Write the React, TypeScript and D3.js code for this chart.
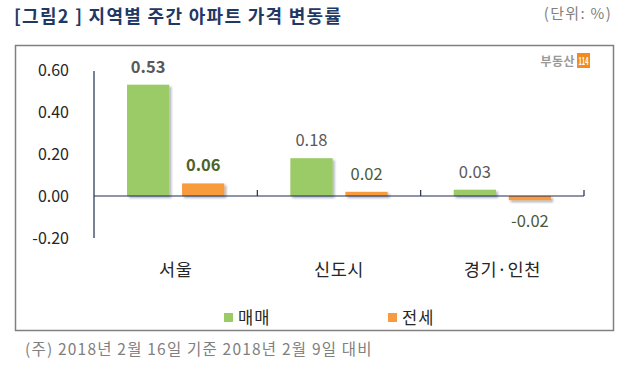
import React from "react";
import * as d3 from "d3";

const categories = ["서울", "신도시", "경기·인천"];
const seriesNames = ["매매", "전세"];
const saleValues = [0.53, 0.18, 0.03];
const leaseValues = [0.06, 0.02, -0.02];
const yTicks = [-0.2, 0, 0.2, 0.4, 0.6];

const W = 632;
const H = 365;
const FONT = "'Noto Sans CJK KR', 'Noto Sans', sans-serif";
const colors = ["#9BCB66", "#F79B3E"];

export default function App() {
  const x = d3.scaleBand<string>().domain(categories).range([94, 584]).padding(0);
  const inner = d3
    .scaleBand<string>()
    .domain(seriesNames)
    .range([0, x.bandwidth()])
    .paddingInner(0.232)
    .paddingOuter(0.6);
  const y = d3.scaleLinear().domain([-0.2, 0.6]).range([238, 70]);
  const values = [saleValues, leaseValues];

  const labelStyle = (si: number, ci: number) => {
    if (ci === 0) return { weight: 700, color: si === 0 ? "#595959" : "#4F6228" };
    return { weight: 400, color: si === 0 ? "#595959" : "#4A5A38" };
  };

  return (
    <svg width={W} height={H} style={{ position: "absolute", left: 0, top: 0 }}>
      <defs>
        <filter id="shadow" x="-20%" y="-20%" width="150%" height="200%">
          <feDropShadow dx="2" dy="2" stdDeviation="1.3" floodColor="#1F2D50" floodOpacity="0.35" />
        </filter>
      </defs>
      <rect width={W} height={H} fill="#fff" />
      {/* title */}
      <text x={14} y={23} fontFamily={FONT} fontSize={18} fontWeight={700} fill="#1F3864" letterSpacing={1.3}>
        [그림2 ] 지역별 주간 아파트 가격 변동률
      </text>
      <text x={612} y={19} textAnchor="end" fontFamily={FONT} fontSize={15} fill="#808080" letterSpacing={1.3}>
        (단위: %)
      </text>
      {/* frame */}
      <rect x={15.5} y={45.5} width={598} height={285} fill="none" stroke="#808080" strokeWidth={1.5} />
      {/* logo */}
      <text x={575} y={66} textAnchor="end" fontFamily={FONT} fontSize={12} fontWeight={700} fill="#9A9A9A" letterSpacing={0.5}>
        부동산
      </text>
      <rect x={577} y={53} width={13} height={15} fill="#F28C1E" />
      <text x={583.5} y={65} textAnchor="middle" fontFamily={FONT} fontSize={10} fontWeight={700} fill="#fff" textLength={10} lengthAdjust="spacingAndGlyphs">
        114
      </text>
      {/* y tick labels */}
      {yTicks.map((t) => (
        <text
          key={t}
          x={69}
          y={y(t)}
          dy="0.35em"
          textAnchor="end"
          fontFamily={FONT}
          fontSize={16}
          fill="#262626"
        >
          {t.toFixed(2)}
        </text>
      ))}
      {/* bars */}
      {values.map((vals, si) =>
        vals.map((v, ci) => {
          const bx = (x(categories[ci]) ?? 0) + (inner(seriesNames[si]) ?? 0);
          const y0 = y(Math.max(0, v));
          const h = Math.abs(y(v) - y(0));
          return (
            <rect
              key={`${si}-${ci}`}
              x={bx}
              y={y0}
              width={inner.bandwidth()}
              height={h}
              fill={colors[si]}
              filter="url(#shadow)"
            />
          );
        })
      )}
      {/* axes */}
      <line x1={94} x2={94} y1={71} y2={238} stroke="#1F2D50" strokeWidth={1.2} />
      <line x1={94} x2={584} y1={y(0)} y2={y(0)} stroke="#1F2D50" strokeWidth={1.2} />
      {categories.map((c) => {
        const tx = (x(c) ?? 0) + x.bandwidth();
        return <line key={c} x1={tx} x2={tx} y1={y(0)} y2={y(0) - 6} stroke="#1F2D50" strokeWidth={1.2} />;
      })}
      {/* value labels */}
      {values.map((vals, si) =>
        vals.map((v, ci) => {
          const cx = (x(categories[ci]) ?? 0) + (inner(seriesNames[si]) ?? 0) + inner.bandwidth() / 2;
          const st = labelStyle(si, ci);
          const ly = v >= 0 ? y(v) - 12 : y(v) + 15;
          return (
            <text
              key={`l${si}-${ci}`}
              x={cx}
              y={ly}
              dy={v >= 0 ? "0" : "0.7em"}
              textAnchor="middle"
              fontFamily={FONT}
              fontSize={16.5}
              fontWeight={st.weight}
              fill={st.color}
            >
              {v.toFixed(2)}
            </text>
          );
        })
      )}
      {/* category labels */}
      {categories.map((c) => (
        <text
          key={c}
          x={(x(c) ?? 0) + x.bandwidth() / 2}
          y={270}
          dy="0.35em"
          textAnchor="middle"
          fontFamily={FONT}
          fontSize={17.5}
          fill="#262626"
          letterSpacing={0.6}
        >
          {c}
        </text>
      ))}
      {/* legend */}
      {seriesNames.map((s, i) => {
        const lx = i === 0 ? 224 : 388;
        return (
          <g key={s}>
            <rect x={lx} y={313} width={9} height={9} fill={colors[i]} />
            <text x={lx + 14} y={318} dy="0.35em" fontFamily={FONT} fontSize={16.5} fill="#262626" letterSpacing={1}>
              {s}
            </text>
          </g>
        );
      })}
      {/* footnote */}
      <text x={25} y={350} dy="0.35em" fontFamily={FONT} fontSize={15.5} fill="#808080" letterSpacing={1.2}>
        (주) 2018년 2월 16일 기준 2018년 2월 9일 대비
      </text>
    </svg>
  );
}
